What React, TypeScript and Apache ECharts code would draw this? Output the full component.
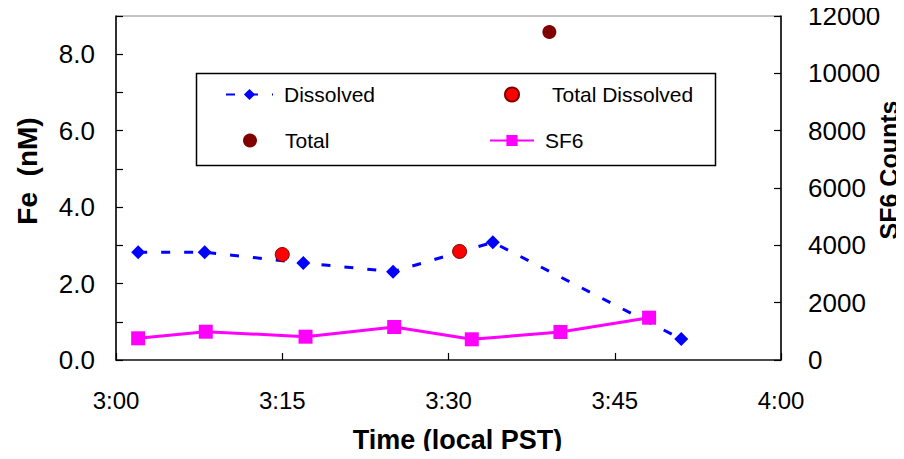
import React, { useEffect, useRef } from "react";
import * as echarts from "echarts";

// minutes after 3:00 local PST
const dissolvedTime = [2.0, 8.0, 16.9, 25.0, 34.0, 51.0];
const dissolvedFe = [2.82, 2.82, 2.54, 2.31, 3.08, 0.55];
const totalDissolvedTime = [15.0, 31.0];
const totalDissolvedFe = [2.76, 2.84];
const totalTime = [39.1];
const totalFe = [8.58];
const sf6Time = [2.0, 8.1, 17.1, 25.1, 32.1, 40.1, 48.1];
const sf6Counts = [757, 987, 813, 1151, 722, 977, 1476];
const xTickLabels = ["3:00", "3:15", "3:30", "3:45", "4:00"];

const FONT = "'Liberation Sans', Arial, sans-serif";

const zip = (xs: number[], ys: number[]) => xs.map((x, i) => [x, ys[i]]);

export default function App() {
  const ref = useRef<HTMLDivElement>(null);
  useEffect(() => {
    if (!ref.current) return;
    const chart = echarts.init(ref.current, null, { renderer: "svg" });
    const legendText = (pad: number) => ({
      fontFamily: FONT,
      fontSize: 21,
      color: "#000",
      padding: [0, 0, 0, pad],
    });
    chart.setOption({
      animation: false,
      backgroundColor: "#fff",
      grid: {
        left: 116,
        right: 123,
        top: 16,
        bottom: 99,
        show: true,
        borderColor: "#888",
        borderWidth: 1,
        containLabel: false,
        outerBoundsMode: "none",
      },
      xAxis: {
        type: "value",
        min: 0,
        max: 60,
        interval: 15,
        name: "Time (local PST)",
        nameLocation: "middle",
        nameGap: 66,
        nameTextStyle: {
          fontFamily: FONT,
          fontSize: 27,
          fontWeight: "bold",
          color: "#000",
          padding: [0, 0, 0, 18],
        },
        axisLine: { lineStyle: { color: "#222", width: 1.5 } },
        axisTick: { inside: true, length: 7, lineStyle: { color: "#000", width: 1.2 } },
        axisLabel: {
          fontFamily: FONT,
          fontSize: 24,
          color: "#000",
          margin: 28,
          formatter: (v: number) => xTickLabels[Math.round(v / 15)],
        },
        splitLine: { show: false },
      },
      yAxis: [
        {
          type: "value",
          min: 0,
          max: 9,
          interval: 1,
          name: "Fe  (nM)",
          nameLocation: "middle",
          nameRotate: 90,
          nameGap: 75,
          nameTextStyle: {
            fontFamily: FONT,
            fontSize: 28,
            fontWeight: "bold",
            color: "#000",
            padding: [0, 0, 0, 34],
          },
          axisLine: { show: true, lineStyle: { color: "#000", width: 1.5 } },
          axisTick: { show: true, inside: true, length: 7, lineStyle: { color: "#000", width: 1.2 } },
          axisLabel: {
            fontFamily: FONT,
            fontSize: 26,
            color: "#000",
            margin: 21,
            formatter: (v: number) => (v % 2 === 0 ? v.toFixed(1) : ""),
          },
          splitLine: { show: false },
        },
        {
          type: "value",
          min: 0,
          max: 12000,
          interval: 2000,
          position: "right",
          axisLine: { show: true, lineStyle: { color: "#000", width: 1.5 } },
          axisTick: { show: true, inside: true, length: 7, lineStyle: { color: "#000", width: 1.2 } },
          axisLabel: {
            fontFamily: FONT,
            fontSize: 26,
            color: "#000",
            margin: 27,
            formatter: (v: number) => String(v),
          },
          splitLine: { show: false },
        },
      ],
      legend: [
        {
          data: ["Dissolved"],
          left: 225,
          top: 84,
          padding: 0,
          itemWidth: 47,
          itemHeight: 14,
          textStyle: legendText(6),
        },
        {
          data: ["Total Dissolved"],
          left: 504,
          top: 84,
          padding: 0,
          itemWidth: 14,
          itemHeight: 14,
          textStyle: legendText(28),
        },
        {
          data: ["Total"],
          left: 243,
          top: 130,
          padding: 0,
          itemWidth: 14,
          itemHeight: 14,
          textStyle: legendText(23),
        },
        {
          data: ["SF6"],
          left: 489,
          top: 130,
          padding: 0,
          itemWidth: 44,
          itemHeight: 14,
          textStyle: legendText(6),
        },
      ],
      graphic: [
        {
          type: "rect",
          left: 194,
          top: 71,
          shape: { width: 519, height: 92 },
          style: { fill: "none", stroke: "#000", lineWidth: 1.5 },
          z: 0,
        },
        {
          type: "text",
          x: 889,
          y: 170,
          rotation: Math.PI / 2,
          style: {
            text: "SF6 Counts",
            fontFamily: FONT,
            fontSize: 25,
            fontWeight: "bold",
            fill: "#000",
            align: "center",
            verticalAlign: "middle",
          },
          z: 5,
        },
      ],
      series: [
        {
          name: "Dissolved",
          type: "line",
          yAxisIndex: 0,
          data: zip(dissolvedTime, dissolvedFe),
          symbol: "diamond",
          symbolSize: 14,
          lineStyle: { color: "#0000FF", width: 3, type: [9, 14] },
          itemStyle: { color: "#0000FF" },
          z: 3,
        },
        {
          name: "Total Dissolved",
          type: "scatter",
          yAxisIndex: 0,
          data: zip(totalDissolvedTime, totalDissolvedFe),
          symbol: "circle",
          symbolSize: 14,
          itemStyle: { color: "#FF0000", borderColor: "#800000", borderWidth: 1, opacity: 1 },
          z: 4,
        },
        {
          name: "Total",
          type: "scatter",
          yAxisIndex: 0,
          data: zip(totalTime, totalFe),
          symbol: "circle",
          symbolSize: 14,
          itemStyle: { color: "#800000", opacity: 1 },
          z: 4,
        },
        {
          name: "SF6",
          type: "line",
          yAxisIndex: 1,
          data: zip(sf6Time, sf6Counts),
          symbol: "rect",
          symbolSize: 14,
          lineStyle: { color: "#FF00FF", width: 3 },
          itemStyle: { color: "#FF00FF" },
          z: 3,
        },
      ],
    });
    return () => chart.dispose();
  }, []);
  return <div ref={ref} style={{ width: 904, height: 459, margin: -8 }} />;
}
